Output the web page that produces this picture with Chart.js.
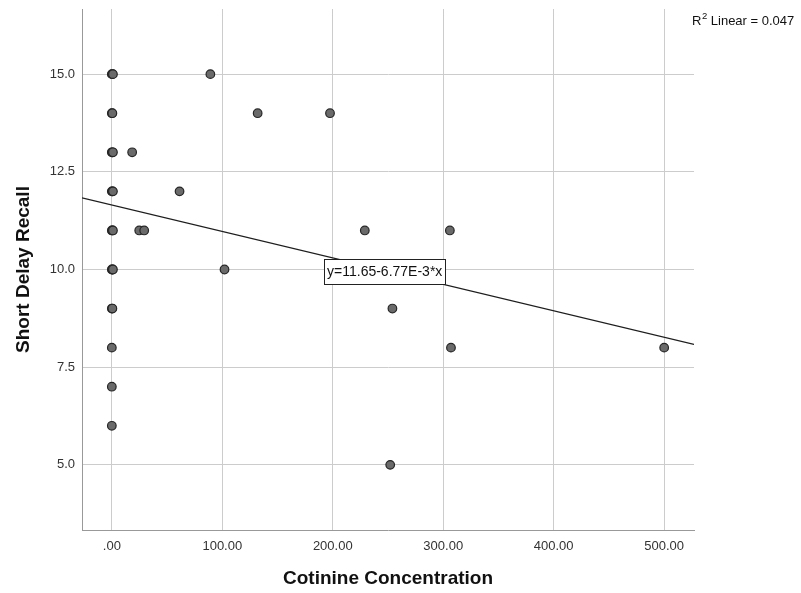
<!DOCTYPE html>
<html>
<head>
<meta charset="utf-8">
<script src="https://cdn.jsdelivr.net/npm/chart.js@4/dist/chart.umd.min.js"></script>
<style>
  html, body { margin: 0; padding: 0; background: #ffffff; }
  #wrap { width: 801px; height: 593px; position: relative; }
</style>
</head>
<body>
<div id="wrap"><canvas id="c" width="801" height="593"></canvas></div>
<script>
// ---- Data ----
const cotinine = [0, 0.5, 1, 0, 0.5, 0, 0.5, 1, 0, 0.5, 1, 0, 0.5, 1, 0, 0.5, 1, 0, 0.5, 0, 0, 0,
                  18.4, 24.8, 29.3, 61.3, 89.2, 102, 132, 197.5, 229, 254, 252, 306, 307, 500];
const recall   = [15, 15, 15, 14, 14, 13, 13, 13, 12, 12, 12, 11, 11, 11, 10, 10, 10, 9, 9, 8, 7, 6,
                  13, 11, 11, 12, 15, 10, 14, 14, 11, 9, 5, 11, 8, 8];

const xTickValues = [0, 100, 200, 300, 400, 500];
const xTickLabels = ['.00', '100.00', '200.00', '300.00', '400.00', '500.00'];
const yTickValues = [5, 7.5, 10, 12.5, 15];
const yTickLabels = ['5.0', '7.5', '10.0', '12.5', '15.0'];

const xRange = [-27, 527];
const yRange = [3.333, 16.667];

const fitIntercept = 11.65;
const fitSlope = -0.00677;
const fitLabel = 'y=11.65-6.77E-3*x';
const fitLabelAt = [247, 9.95];
const r2Value = '0.047';

const xTitle = 'Cotinine Concentration';
const yTitle = 'Short Delay Recall';

// ---- Build datasets ----
const points = cotinine.map((x, i) => ({ x: x, y: recall[i] }));
const fitLine = xRange.map(x => ({ x: x, y: fitIntercept + fitSlope * x }));

const FONT = "'Liberation Sans', Arial, sans-serif";

const annotations = {
  id: 'annotations',
  afterDatasetsDraw(chart) {
    const ctx = chart.ctx;
    const xs = chart.scales.x, ys = chart.scales.y;
    // equation label box
    ctx.save();
    ctx.font = '14px ' + FONT;
    const tw = ctx.measureText(fitLabel).width;
    const cx = xs.getPixelForValue(fitLabelAt[0]);
    const cy = ys.getPixelForValue(fitLabelAt[1]);
    const w = Math.round(tw + 6), h = 25;
    const bx = Math.round(cx - w / 2) + 0.5, by = Math.round(cy - h / 2) + 0.5;
    ctx.fillStyle = '#ffffff';
    ctx.fillRect(bx, by, w, h);
    ctx.strokeStyle = '#222222';
    ctx.lineWidth = 1;
    ctx.strokeRect(bx, by, w, h);
    ctx.fillStyle = '#111111';
    ctx.textAlign = 'center';
    ctx.textBaseline = 'middle';
    ctx.fillText(fitLabel, cx, cy + 1);
    ctx.restore();

    // R squared text, top right
    ctx.save();
    ctx.fillStyle = '#111111';
    ctx.textBaseline = 'alphabetic';
    ctx.textAlign = 'left';
    let x0 = chart.chartArea.right - 2;
    const base = 24.5;
    ctx.font = '13px ' + FONT;
    ctx.fillText('R', x0, base);
    x0 += ctx.measureText('R').width;
    ctx.font = '9.5px ' + FONT;
    ctx.fillText('2', x0 + 0.5, base - 6);
    x0 += ctx.measureText('2').width + 0.5;
    ctx.font = '13px ' + FONT;
    ctx.fillText(' Linear = ' + r2Value, x0, base);
    ctx.restore();
  }
};

new Chart(document.getElementById('c'), {
  type: 'scatter',
  data: {
    datasets: [
      {
        type: 'line',
        label: 'Linear fit',
        data: fitLine,
        borderColor: '#1e1e1e',
        borderWidth: 1.2,
        pointRadius: 0,
        fill: false,
        order: 2
      },
      {
        label: 'Short Delay Recall',
        data: points,
        backgroundColor: '#6a6a6a',
        borderColor: '#262626',
        borderWidth: 1.2,
        pointRadius: 4.3,
        order: 1
      }
    ]
  },
  options: {
    responsive: false,
    animation: false,
    devicePixelRatio: 1,
    layout: { padding: { top: 9, right: 107, left: 0, bottom: 0 } },
    plugins: { legend: { display: false }, tooltip: { enabled: false } },
    scales: {
      x: {
        type: 'linear',
        min: xRange[0], max: xRange[1],
        afterFit(s) { s.height = 63; s.paddingLeft = 0; s.paddingRight = 0; },
        afterBuildTicks(s) { s.ticks = xTickValues.map(v => ({ value: v })); },
        ticks: {
          padding: 9,
          color: '#333333',
          font: { family: FONT, size: 13 },
          maxRotation: 0,
          callback(v) { const i = xTickValues.indexOf(v); return i >= 0 ? xTickLabels[i] : ''; }
        },
        grid: { color: '#cccccc', lineWidth: 1, drawTicks: false },
        border: { color: '#999999', width: 1 },
        title: {
          display: true, text: xTitle, color: '#111111',
          font: { family: FONT, size: 19, weight: 'bold' },
          padding: { top: 0, bottom: 3 }
        }
      },
      y: {
        type: 'linear',
        min: yRange[0], max: yRange[1],
        afterFit(s) { s.width = 82; s.paddingTop = 0; s.paddingBottom = 0; },
        afterBuildTicks(s) { s.ticks = yTickValues.map(v => ({ value: v })); },
        ticks: {
          padding: 7,
          color: '#333333',
          font: { family: FONT, size: 13 },
          callback(v) { const i = yTickValues.indexOf(v); return i >= 0 ? yTickLabels[i] : ''; }
        },
        grid: { color: '#cccccc', lineWidth: 1, drawTicks: false },
        border: { color: '#999999', width: 1 },
        title: {
          display: true, text: yTitle, color: '#111111',
          font: { family: FONT, size: 19, weight: 'bold' },
          padding: { top: 12, bottom: 0 }
        }
      }
    }
  },
  plugins: [annotations]
});
</script>
</body>
</html>
